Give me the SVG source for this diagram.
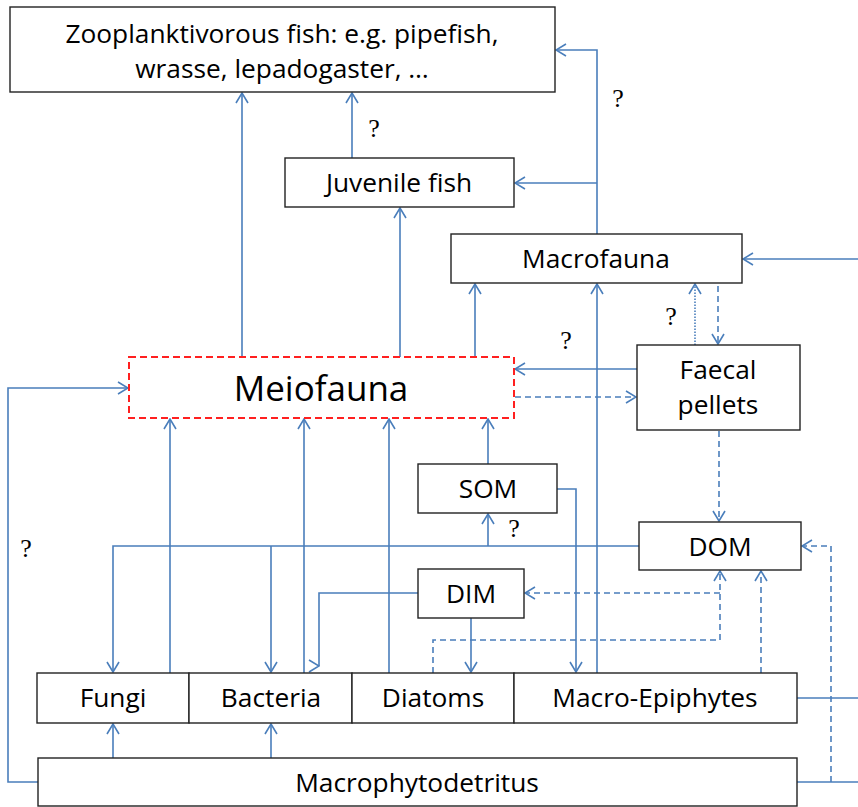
<svg xmlns="http://www.w3.org/2000/svg" width="858" height="807" viewBox="0 0 858 807">
<defs>
<style>
.box{fill:#fff;stroke:#222;stroke-width:1.4}
.meio{fill:#fff;stroke:#ff2020;stroke-width:2;stroke-dasharray:7,4}
.t{font-family:"Open Sans",Lato,"Liberation Sans",sans-serif;font-size:26.3px;fill:#000;text-anchor:middle}
.big{font-size:35px}
.q{font-family:"Liberation Serif","DejaVu Serif",serif;font-size:26px;fill:#000;text-anchor:middle}
.c{fill:none;stroke:#4a7ebb;stroke-width:1.6}
.d{stroke-dasharray:6,4}
.dot{stroke-dasharray:1.5,1.5}
.a{marker-end:url(#ar)}
</style>
<marker id="ar" viewBox="0 0 12 14" refX="11" refY="7" markerWidth="12" markerHeight="14" markerUnits="userSpaceOnUse" orient="auto">
<path d="M1,1 L11,7 L1,13" fill="none" stroke="#4a7ebb" stroke-width="1.6"/>
</marker>
<marker id="ar0" viewBox="0 0 12 14" refX="11" refY="7" markerWidth="12" markerHeight="14" markerUnits="userSpaceOnUse" orient="0">
<path d="M1,1 L11,7 L1,13" fill="none" stroke="#4a7ebb" stroke-width="1.6"/>
</marker>
</defs>
<rect width="858" height="807" fill="#fff"/>
<g id="connectors">
<path class="c a" d="M242,357 V93"/>
<path class="c a" d="M352,158 V93"/>
<path class="c a" d="M400,357 V208"/>
<path class="c a" d="M475,357 V284"/>
<path class="c a" d="M597,234 V50 H556"/>
<path class="c a" d="M597,183 H515"/>
<path class="c a" d="M858,259 H743"/>
<path class="c a" d="M597,673 V284"/>
<path class="c dot a" d="M695,345 V284"/>
<path class="c d a" d="M718,286 V344"/>
<path class="c a" d="M637,369 H515"/>
<path class="c d a" d="M515,397 H636"/>
<path class="c d a" d="M719,431 V521"/>
<path class="c a" d="M488,464 V419"/>
<path class="c a" d="M639,546 H113 V672"/>
<path class="c a" d="M271,546 V672"/>
<path class="c a" d="M488,546 V514"/>
<path class="c a" d="M170,673 V419"/>
<path class="c a" d="M304,673 V419"/>
<path class="c a" d="M389,673 V419"/>
<path class="c a" d="M557,489 H576 V672"/>
<path class="c" d="M418,593 H319 V666" marker-end="url(#ar0)"/>
<path class="c a" d="M471,618 V672"/>
<path class="c d a" d="M433,673 V640 H720 V571"/>
<path class="c d a" d="M720,593 H525"/>
<path class="c d a" d="M761,673 V571"/>
<path class="c" d="M797,698 H858"/>
<path class="c" d="M797,782 H858"/>
<path class="c d a" d="M831,782 V546 H802"/>
<path class="c a" d="M113,758 V724"/>
<path class="c a" d="M271,758 V724"/>
<path class="c a" d="M38,782 H8 V388 H128"/>
</g>
<g id="zooplanktivorous-fish">
<rect class="box" x="10" y="7" width="545" height="85"/>
<text class="t" x="282" y="43">Zooplanktivorous fish: e.g. pipefish,</text>
<text class="t" x="282" y="78">wrasse, lepadogaster, …</text>
</g>
<g id="juvenile-fish">
<rect class="box" x="285" y="158" width="229" height="49"/>
<text class="t" x="399" y="192">Juvenile fish</text>
</g>
<g id="macrofauna">
<rect class="box" x="451" y="234" width="291" height="49"/>
<text class="t" x="596" y="268">Macrofauna</text>
</g>
<g id="meiofauna">
<rect class="meio" x="129" y="357" width="385" height="61"/>
<text class="t big" x="321" y="401">Meiofauna</text>
</g>
<g id="faecal-pellets">
<rect class="box" x="637" y="345" width="163" height="85"/>
<text class="t" x="718" y="379">Faecal</text>
<text class="t" x="718" y="414">pellets</text>
</g>
<g id="som">
<rect class="box" x="418" y="464" width="139" height="49"/>
<text class="t" x="488" y="498">SOM</text>
</g>
<g id="dom">
<rect class="box" x="639" y="522" width="162" height="48"/>
<text class="t" x="720" y="556">DOM</text>
</g>
<g id="dim">
<rect class="box" x="418" y="569" width="106" height="49"/>
<text class="t" x="471" y="603">DIM</text>
</g>
<g id="fungi">
<rect class="box" x="37" y="673" width="152" height="50"/>
<text class="t" x="113" y="707">Fungi</text>
</g>
<g id="bacteria">
<rect class="box" x="189" y="673" width="163" height="50"/>
<text class="t" x="271" y="707">Bacteria</text>
</g>
<g id="diatoms">
<rect class="box" x="352" y="673" width="162" height="50"/>
<text class="t" x="433" y="707">Diatoms</text>
</g>
<g id="macro-epiphytes">
<rect class="box" x="514" y="673" width="283" height="50"/>
<text class="t" x="655" y="707">Macro-Epiphytes</text>
</g>
<g id="macrophytodetritus">
<rect class="box" x="38" y="758" width="759" height="48"/>
<text class="t" x="417" y="792">Macrophytodetritus</text>
</g>
<g id="labels">
<text class="q" x="374" y="137">?</text>
<text class="q" x="618" y="107">?</text>
<text class="q" x="671" y="325">?</text>
<text class="q" x="566" y="349">?</text>
<text class="q" x="514" y="537">?</text>
<text class="q" x="26" y="557">?</text>
</g>
</svg>
